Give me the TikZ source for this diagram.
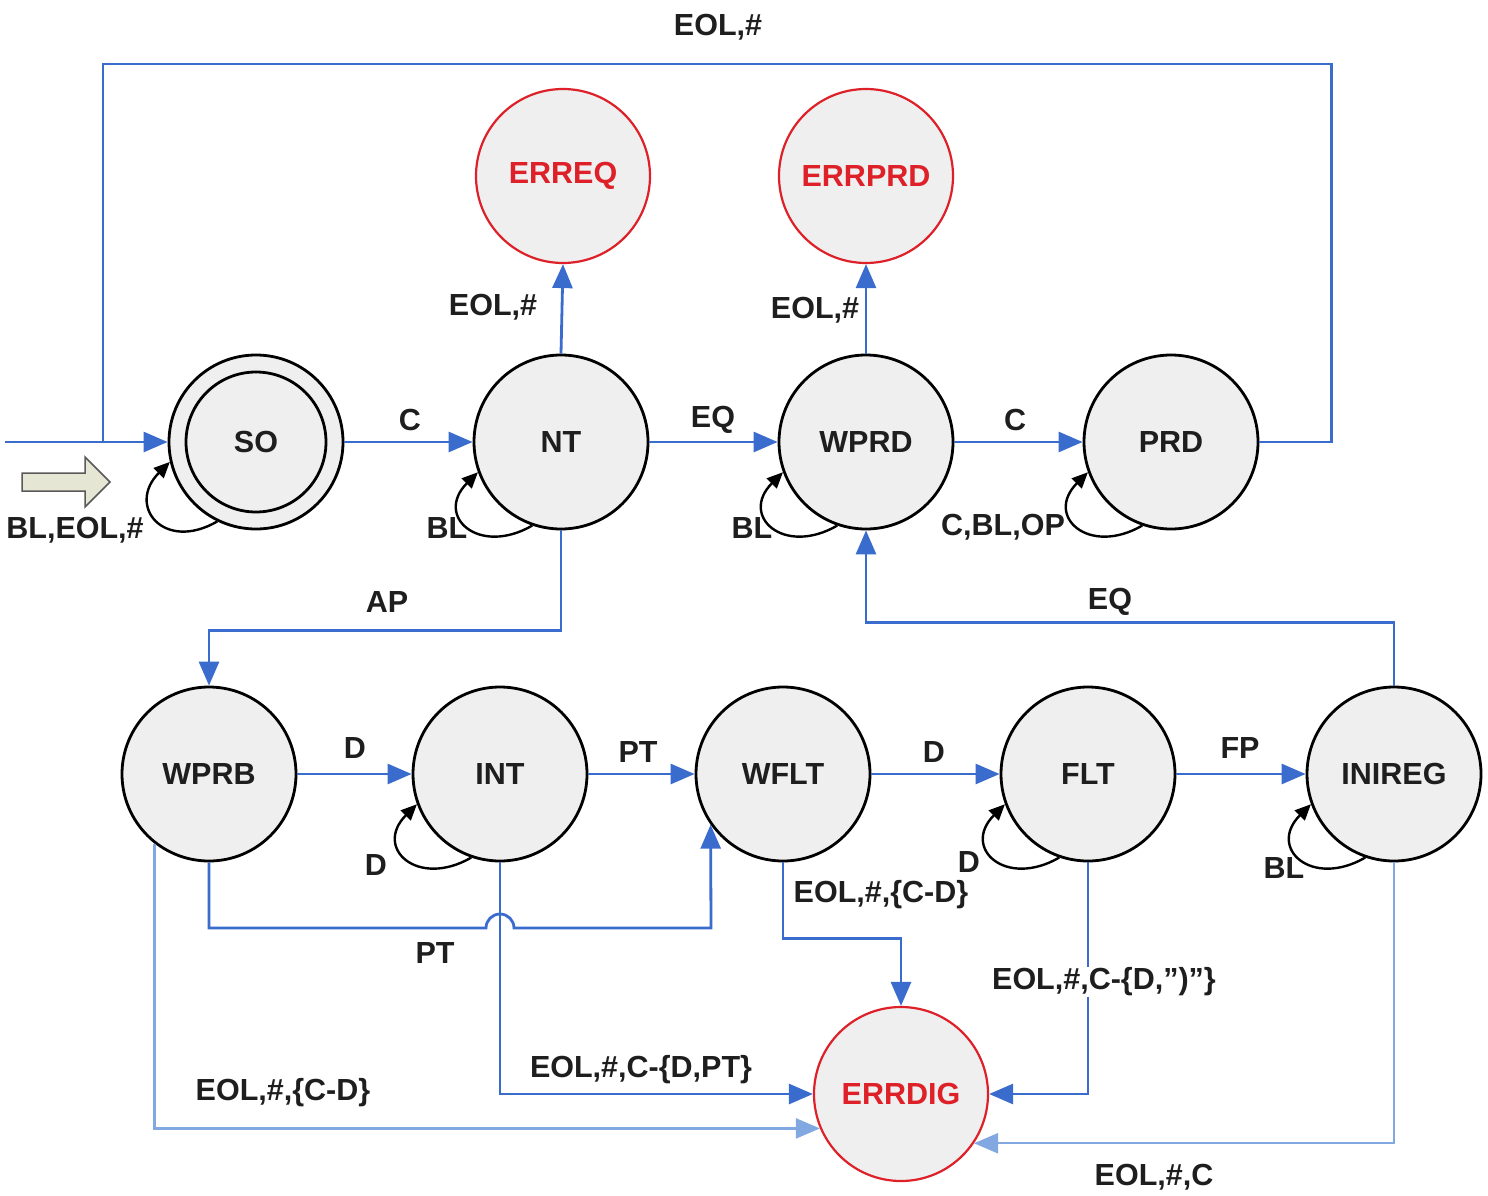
\documentclass[tikz,border=0pt]{standalone}
\usepackage{fontspec}
\setmainfont{Liberation Sans}
\usetikzlibrary{arrows.meta}
\definecolor{eblue}{RGB}{58,108,205}
\definecolor{lblue}{RGB}{130,168,225}
\definecolor{sgray}{RGB}{239,239,239}
\definecolor{ered}{RGB}{222,32,40}
\definecolor{txt}{RGB}{30,30,30}
\definecolor{khaki}{RGB}{230,230,212}
\begin{document}
\begin{tikzpicture}[x=1pt,y=1pt,
  state/.style={circle, draw=black, line width=2.8pt, fill=sgray, minimum size=174pt, inner sep=0pt,
    font=\fontsize{30.5}{33}\selectfont\bfseries, text=txt},
  errstate/.style={state, draw=ered, line width=2.2pt, text=ered},
  line/.style={draw=eblue, line width=2.8pt},
  edge/.style={line, -{Triangle[length=24pt,width=20pt]}},
  ledge/.style={draw=lblue, line width=2.2pt, -{Triangle[length=24pt,width=20pt]}},
  loopedge/.style={draw=black, line width=2.4pt, -{Triangle[length=16pt,width=14pt]}},
  lbl/.style={font=\fontsize{30.5}{33}\selectfont\bfseries, text=txt, inner sep=1pt}]
\useasboundingbox (0,0) rectangle (1488,-1196);

% states
\node[state] (SO) at (256,-442) {SO};
\draw[line width=2.8pt] (SO.center) circle[radius=70];
\node[state] (NT) at (561,-442) {NT};
\node[state] (WPRD) at (866,-442) {WPRD};
\node[state] (PRD) at (1171,-442) {PRD};
\node[errstate] (ERREQ) at (563,-176) {ERREQ};
\node[errstate] (ERRPRD) at (866,-176) {ERRPRD};
\node[state] (WPRB) at (209,-774) {WPRB};
\node[state] (INT) at (500,-774) {INT};
\node[state] (WFLT) at (783,-774) {WFLT};
\node[state] (FLT) at (1088,-774) {FLT};
\node[state] (INIREG) at (1394,-774) {INIREG};
\node[errstate] (ERRDIG) at (901,-1094) {ERRDIG};

% start
\coordinate (start) at (5,-442);
\coordinate (join) at (103,-442);
\coordinate (topL) at (103,-64);
\draw[edge] (start) -- (SO.west);
\draw[line] (PRD.east) -- ++(72,0) |- (topL) -- (join);
\draw[draw=black!65, line width=1.5pt, fill=khaki, line join=miter]
  (22,-473) -- (85,-473) -- (85,-457) -- (110,-482) -- (85,-507) -- (85,-491) -- (22,-491) -- cycle;

% top row edges
\draw[edge] (SO.east) -- (NT.west);
\draw[edge] (NT.east) -- (WPRD.west);
\draw[edge] (WPRD.east) -- (PRD.west);
\draw[edge] (NT.north) -- (ERREQ.south);
\draw[edge] (WPRD.north) -- (ERRPRD.south);

% loops
\draw[loopedge] (SO.244) .. controls +(210:62) and +(225:62) .. (SO.193);
\foreach \n in {NT,WPRD,PRD,INT,FLT,INIREG}
  \draw[loopedge] (\n.251) .. controls +(210:62) and +(225:62) .. (\n.200);

% middle connections
\draw[edge] (NT.south) -- ++(0,-100) -| (WPRB.north);
\draw[edge] (INIREG.north) -- ++(0,63) -| (WPRD.south);

% bottom row
\draw[edge] (WPRB.east) -- (INT.west);
\draw[edge] (INT.east) -- (WFLT.west);
\draw[edge] (WFLT.east) -- (FLT.west);
\draw[edge] (FLT.east) -- (INIREG.west);

\coordinate (hopA) at (486,-928);
\draw[edge] (WPRB.south) |- (hopA) arc[start angle=180, end angle=0, radius=14] -- (711,-928) -- (WFLT.215.5);

\draw[edge] (INT.south) |- (ERRDIG.west);
\draw[ledge] (WPRB.232.7) |- (ERRDIG.203.4);
\draw[edge] (WFLT.south) -- ++(0,-76) -| (ERRDIG.north);
\draw[edge] (FLT.south) |- (ERRDIG.east);
\draw[ledge] (INIREG.south) |- (ERRDIG.326);

% labels
\node[lbl] (t1) at (718,-27) {EOL,\#};
\node[lbl] (t2) at (410,-420) {C};
\node[lbl] (t3) at (713,-420) {EQ};
\node[lbl] (t4) at (1015,-420) {C};
\node[lbl] (t5) at (493,-307) {EOL,\#};
\node[lbl] (t6) at (815,-310) {EOL,\#};
\node[lbl] (t7) at (75,-530) {BL,EOL,\#};
\node[lbl] (t8) at (447,-528) {BL};
\node[lbl] (t9) at (752,-528) {BL};
\node[lbl] (t10) at (1003,-527) {C,BL,OP};
\node[lbl] (t11) at (387,-602) {AP};
\node[lbl] (t12) at (1110,-602) {EQ};
\node[lbl] (t13) at (355,-748) {D};
\node[lbl] (t14) at (638,-752) {PT};
\node[lbl] (t15) at (934,-752) {D};
\node[lbl] (t16) at (1240,-748) {FP};
\node[lbl] (t17) at (376,-865) {D};
\node[lbl] (t18) at (969,-862) {D};
\node[lbl] (t19) at (1284,-868) {BL};
\node[lbl] (t20) at (435,-953) {PT};
\node[lbl] (t21) at (881,-895) {EOL,\#,\{C-D\}};
\node[lbl, fill=white] (t22) at (1104,-982) {EOL,\#,C-\{D,”)”\}};
\node[lbl] (t23) at (641,-1070) {EOL,\#,C-\{D,PT\}};
\node[lbl] (t24) at (283,-1093) {EOL,\#,\{C-D\}};
\node[lbl] (t25) at (1154,-1177) {EOL,\#,C};
\end{tikzpicture}
\end{document}
